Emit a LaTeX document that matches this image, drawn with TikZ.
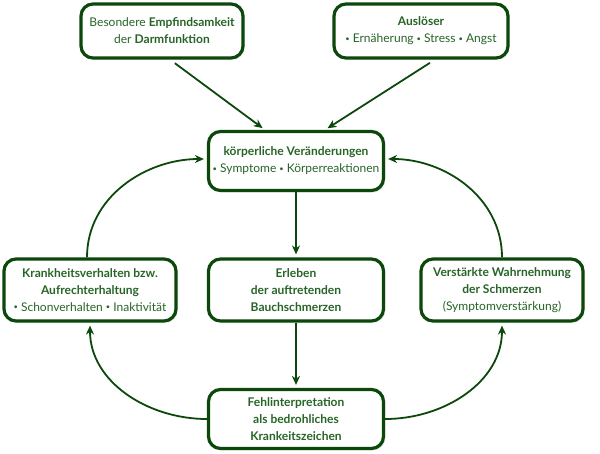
\documentclass[tikz,border=0pt]{standalone}
\usepackage{fontspec}
\setmainfont{Lato}
\usetikzlibrary{arrows.meta,shadows}
\definecolor{boxgreen}{RGB}{12,72,12}
\definecolor{txtgreen}{RGB}{40,100,40}
\newcommand{\bdot}{\raisebox{1.8pt}{\fontsize{7.5}{7.5}\selectfont •}}

\begin{document}
\begin{tikzpicture}[x=1pt,y=-1pt,
every node/.style={draw=boxgreen,line width=3.2pt,rounded corners=12pt,fill=white,
  align=center,text=txtgreen,font=\fontsize{12}{17}\selectfont,inner sep=2pt,
  drop shadow={opacity=0.12,shadow xshift=2pt,shadow yshift=-2pt}},
arr/.style={draw=boxgreen,line width=1.8pt,-{Stealth[length=9pt,width=8pt]}}]
\useasboundingbox (0,0) rectangle (600,453);
\node[minimum width=162pt,minimum height=54pt] (A1) at (162,31)
  {Besondere \textbf{Empfindsamkeit}\\ der \textbf{Darmfunktion}};
\node[minimum width=174pt,minimum height=54pt] (A2) at (421,31)
  {\textbf{Auslöser}\\ \bdot{} Ernäherung \bdot{} Stress \bdot{} Angst};
\node[minimum width=175pt,minimum height=59pt] (A3) at (296,161)
  {\textbf{körperliche Veränderungen}\\ \bdot{} Symptome \bdot{} Körperreaktionen};
\node[minimum width=172pt,minimum height=62pt] (A4) at (90,290)
  {\textbf{Krankheitsverhalten bzw.}\\ \textbf{Aufrechterhaltung}\\ \bdot{} Schonverhalten \bdot{} Inaktivität};
\node[minimum width=175pt,minimum height=62pt] (A5) at (296,290)
  {\textbf{Erleben}\\ \textbf{der auftretenden}\\ \textbf{Bauchschmerzen}};
\node[minimum width=162pt,minimum height=62pt] (A6) at (502,290)
  {\textbf{Verstärkte Wahrnehmung}\\ \textbf{der Schmerzen}\\ (Symptomverstärkung)};
\node[minimum width=175pt,minimum height=59pt] (A7) at (296,419)
  {\textbf{Fehlinterpretation}\\ \textbf{als bedrohliches}\\ \textbf{Krankeitszeichen}};
\draw[arr,shorten <=6pt,shorten >=3pt] ([xshift=8pt]A1.south) -- ([xshift=-31pt]A3.north);
\draw[arr,shorten <=6pt,shorten >=3pt] ([xshift=14pt]A2.south) -- ([xshift=29pt]A3.north);
\draw[arr,shorten >=3pt] (A3.south) -- (A5.north);
\draw[arr,shorten >=3pt] (A5.south) -- (A7.north);
\draw[arr,shorten >=3pt] ([xshift=-3pt]A4.north) to[out=90,in=180] ([yshift=2pt]A3.west);
\draw[arr,shorten >=3pt] (A6.north) to[out=90,in=0] ([yshift=2pt]A3.east);
\draw[arr,shorten >=3pt] (A7.west) to[out=180,in=-90] (A4.south);
\draw[arr,shorten >=3pt] (A7.east) to[out=0,in=-90] (A6.south);
\end{tikzpicture}
\end{document}
